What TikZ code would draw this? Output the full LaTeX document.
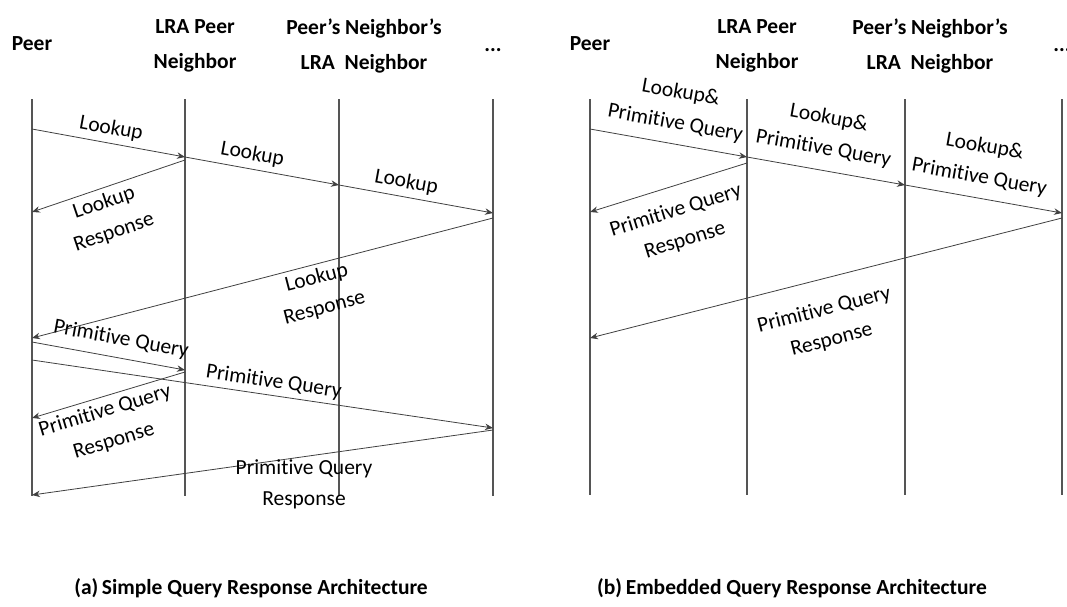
\documentclass[tikz,border=0pt]{standalone}
\usepackage{fontspec}
\setmainfont{Carlito}[Ligatures={TeX,NoCommon}]
\usetikzlibrary{arrows.meta}
\definecolor{sqLine}{HTML}{555555}
\definecolor{sqArrow}{HTML}{404040}
\tikzset{
  head/.style ={font=\fontsize{21.5}{35}\selectfont\bfseries,align=center,inner sep=0pt},
  life/.style ={sqLine,line width=2.4pt},
  msg/.style  ={-{Stealth[length=8pt,width=6.5pt]},sqArrow,line width=0.8pt},
  mlbl/.style ={font=\fontsize{21.5}{31}\selectfont,text=black,align=center,inner sep=1pt},
  capt/.style ={font=\fontsize{21.5}{26}\selectfont\bfseries,inner sep=0pt},
}
\begin{document}
\begin{tikzpicture}[x=1pt,y=-1pt]
\useasboundingbox (0,0) rectangle (1067,606);

%% (a) simple query response
\foreach \n/\x in {P/32,L/185,N/339,D/493}{
  \coordinate (a\n) at (\x,99);
  \coordinate (a\n b) at (\x,496);
  \draw[life] (a\n) -- (a\n b);
}
\node[head] (haP) at (32,44) {Peer};
\node[head] (haL) at (195,46) {LRA Peer\\Neighbor};
\node[head] (haN) at (364,46) {Peer's Neighbor's\\LRA\ \ Neighbor};
\node[head] (haD) at (493,50) {...};

\foreach \m/\xa/\ya/\xb/\yb in {
  1/32/129/185/157, 2/185/157/339/185, 3/339/185/493/213,
  4/185/160/32/212, 5/493/218/32/338, 6/32/342/185/370,
  7/32/360/493/428, 8/185/372/32/418, 9/493/430/32/495}
{
  \coordinate (a\m s) at (\xa,\ya);
  \coordinate (a\m e) at (\xb,\yb);
}
\draw[msg] (a1s) -- node[mlbl,sloped,above=4pt,pos=.5]  (la1) {Lookup} (a1e);
\draw[msg] (a2s) -- node[mlbl,sloped,above=4pt,pos=.42] (la2) {Lookup} (a2e);
\draw[msg] (a3s) -- node[mlbl,sloped,above=4pt,pos=.42] (la3) {Lookup} (a3e);
\draw[msg] (a4s) -- node[mlbl,sloped,below=4pt,pos=.56] (la4) {Lookup\\Response} (a4e);
\draw[msg] (a5s) -- node[mlbl,sloped,below=3pt,pos=.39] (la5) {Lookup\\Response} (a5e);
\draw[msg] (a6s) -- node[mlbl,sloped,above=8pt,pos=.56] (la6) {Primitive Query} (a6e);
\draw[msg] (a7s) -- node[mlbl,sloped,above=3pt,pos=.52] (la7) {Primitive Query} (a7e);
\draw[msg] (a8s) -- node[mlbl,sloped,below=4pt,pos=.55] (la8) {Primitive Query\\Response} (a8e);
\draw[msg] (a9s) -- node[mlbl,below=2pt,pos=.41]        (la9) {Primitive Query\\Response} (a9e);

\node[capt] (capA) at (251,588) {(a)\,Simple Query Response Architecture};

%% (b) embedded query response
\foreach \n/\x in {P/590,L/747,N/905,D/1062}{
  \coordinate (b\n) at (\x,99);
  \coordinate (b\n b) at (\x,495);
  \draw[life] (b\n) -- (b\n b);
}
\node[head] (hbP) at (590,44) {Peer};
\node[head] (hbL) at (757,46) {LRA Peer\\Neighbor};
\node[head] (hbN) at (930,46) {Peer's Neighbor's\\LRA\ \ Neighbor};
\node[head] (hbD) at (1062,50) {...};

\foreach \m/\xa/\ya/\xb/\yb in {
  1/590/129/747/157, 2/747/157/905/185, 3/905/185/1062/213,
  4/747/163/590/212, 5/1062/218/590/338}
{
  \coordinate (b\m s) at (\xa,\ya);
  \coordinate (b\m e) at (\xb,\yb);
}
\draw[msg] (b1s) -- node[mlbl,sloped,above=10pt,pos=.52] (lb1) {Lookup\&\\Primitive Query} (b1e);
\draw[msg] (b2s) -- node[mlbl,sloped,above=11pt,pos=.46] (lb2) {Lookup\&\\Primitive Query} (b2e);
\draw[msg] (b3s) -- node[mlbl,sloped,above=10pt,pos=.45] (lb3) {Lookup\&\\Primitive Query} (b3e);
\draw[msg] (b4s) -- node[mlbl,sloped,below=14pt,pos=.5]  (lb4) {Primitive Query\\Response} (b4e);
\draw[msg] (b5s) -- node[mlbl,sloped,below=20pt,pos=.52] (lb5) {Primitive Query\\Response} (b5e);

\node[capt] (capB) at (792,588) {(b)\,Embedded Query Response Architecture};
\end{tikzpicture}
\end{document}
